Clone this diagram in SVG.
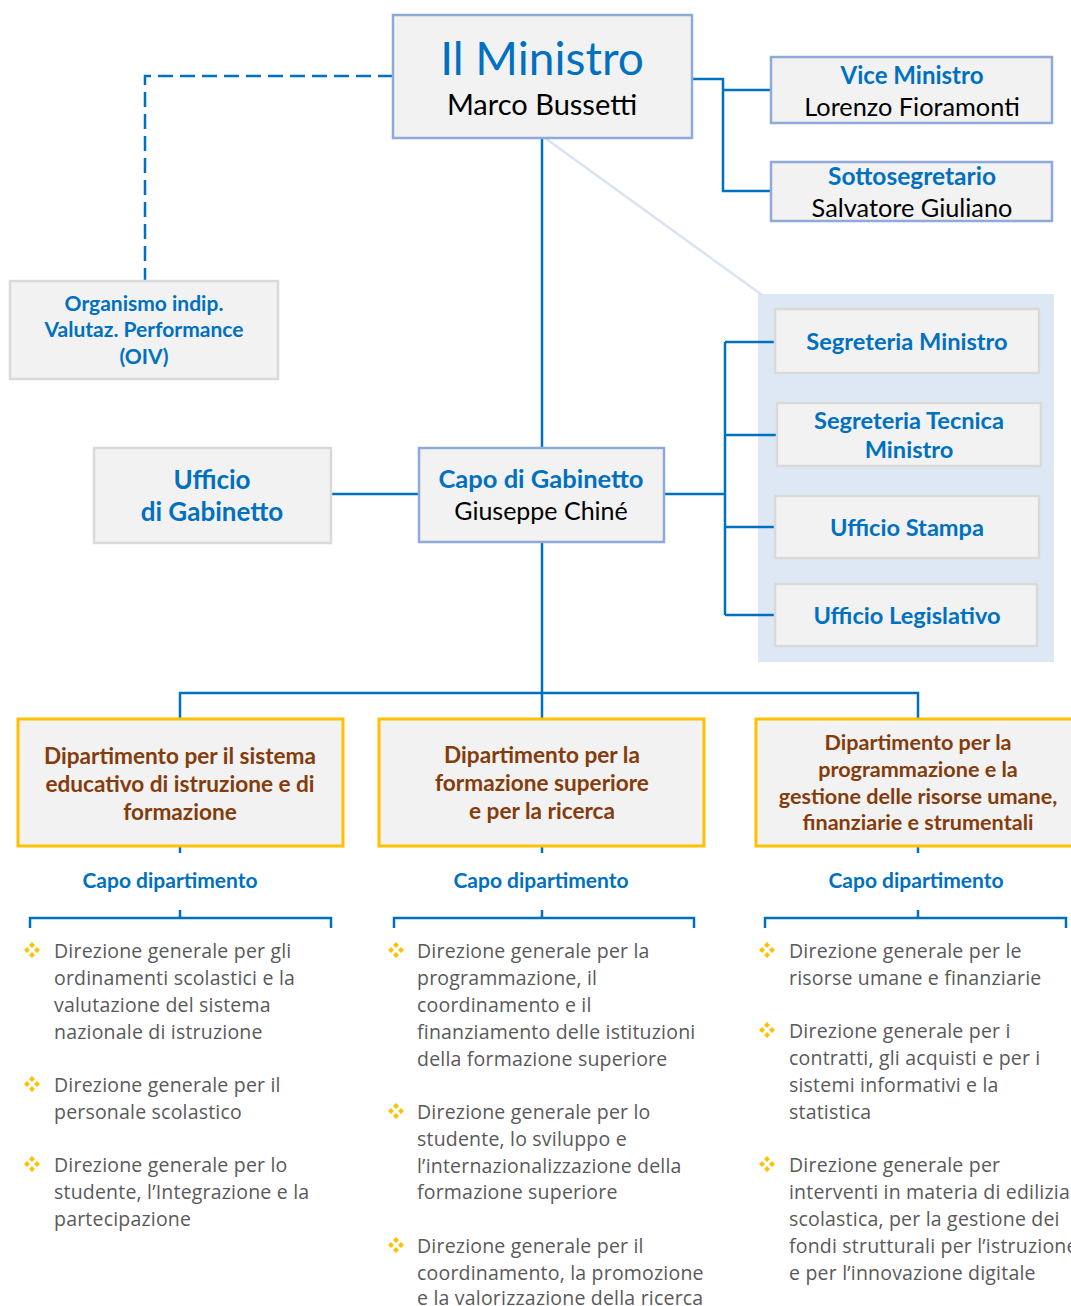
<svg xmlns="http://www.w3.org/2000/svg" xmlns:xlink="http://www.w3.org/1999/xlink" width="1071" height="1306" viewBox="0 0 1071 1306">
<style>
.box{fill:#f2f2f2;stroke:#d9d9d9;stroke-width:2.5}
.bbox{fill:#f2f2f2;stroke:#8eaadb;stroke-width:2.5}
.obox{fill:#f2f2f2;stroke:#ffc000;stroke-width:3}
.ln{fill:none;stroke:#0070c0;stroke-width:2.5}
.tb{font-family:Lato,"Open Sans",sans-serif;font-weight:bold;fill:#0070c0;text-anchor:middle}
.tk{font-family:Lato,"Open Sans",sans-serif;fill:#000;text-anchor:middle}
.td{font-family:Lato,"Open Sans",sans-serif;font-weight:bold;fill:#843c0c;text-anchor:middle;font-size:22.6px}
.td3{font-size:21.6px}
.tl{font-family:"Open Sans","Noto Sans",sans-serif;fill:#595959;font-size:19.5px;letter-spacing:0.2px}
.bul{fill:#ffc000}
</style>
<defs>
<g id="bul">
<path class="bul" d="M0,-8 l3,3 l-3,3 l-3,-3z M0,2 l3,3 l-3,3 l-3,-3z M-5,-3 l3,3 l-3,3 l-3,-3z M5,-3 l3,3 l-3,3 l-3,-3z"/>
</g>
</defs>
<rect width="1071" height="1306" fill="#fff"/>
<rect x="758" y="294" width="296" height="368" fill="#dee8f4"/>
<g id="connectors">
<path d="M545,138 L762,295" stroke="#dae3f3" stroke-width="2.5" fill="none"/>
<path class="ln" d="M393,76 H145 V281" stroke-dasharray="15,7"/>
<path class="ln" d="M692,79 H723 V191 H771 M723,90 H771"/>
<path class="ln" d="M542,138 V448"/>
<path class="ln" d="M331,494 H419"/>
<path class="ln" d="M664,494 H725 M725,342 V615 M725,342 H775 M725,435 H777 M725,527 H775 M725,615 H775"/>
<path class="ln" d="M542,542 V719 M180,719 V693 H918 V719"/>
<path class="ln" d="M180,846 V853 M542,846 V853 M918,846 V853"/>
<path class="ln" d="M30,928 V918 H331 V928 M180,910 V918"/>
<path class="ln" d="M394,928 V918 H694 V928 M542,910 V918"/>
<path class="ln" d="M765,928 V918 H1066 V928 M918,910 V918"/>
</g>
<g id="ministro">
<rect class="bbox" x="393" y="15" width="299" height="123"/>
<text class="tk" x="542" y="75" style="fill:#0070c0;font-size:46px">Il Ministro</text>
<text class="tk" x="542" y="115" font-size="29">Marco Bussetti</text>
</g>
<g id="vice">
<rect class="bbox" x="771" y="57" width="281" height="66"/>
<text class="tb" x="912" y="84" font-size="24">Vice Ministro</text>
<text class="tk" x="912" y="116" font-size="25.3">Lorenzo Fioramonti</text>
</g>
<g id="sottosegretario">
<rect class="bbox" x="771" y="162" width="281" height="59"/>
<text class="tb" x="912" y="185" font-size="24.5">Sottosegretario</text>
<text class="tk" x="912" y="217" font-size="25.3">Salvatore Giuliano</text>
</g>
<g id="oiv">
<rect class="box" x="10" y="281" width="268" height="98"/>
<text class="tb" x="144" y="311" font-size="21">Organismo indip.</text>
<text class="tb" x="144" y="337" font-size="21">Valutaz. Performance</text>
<text class="tb" x="144" y="364" font-size="21">(OIV)</text>
</g>
<g id="segreteria-ministro">
<rect class="box" x="775" y="309" width="264" height="64"/>
<text class="tb" x="907" y="350" font-size="23.6">Segreteria Ministro</text>
</g>
<g id="segreteria-tecnica">
<rect class="box" x="777" y="403" width="264" height="63"/>
<text class="tb" x="909" y="429" font-size="23.6">Segreteria Tecnica</text>
<text class="tb" x="909" y="458" font-size="23.6">Ministro</text>
</g>
<g id="ufficio-stampa">
<rect class="box" x="775" y="496" width="264" height="62"/>
<text class="tb" x="907" y="536" font-size="23.6">Ufficio Stampa</text>
</g>
<g id="ufficio-legislativo">
<rect class="box" x="775" y="584" width="262" height="62"/>
<text class="tb" x="907" y="624" font-size="23.6">Ufficio Legislativo</text>
</g>
<g id="ufficio-gabinetto">
<rect class="box" x="94" y="448" width="237" height="95"/>
<text class="tb" x="212" y="489" font-size="26">Ufficio</text>
<text class="tb" x="212" y="521" font-size="26">di Gabinetto</text>
</g>
<g id="capo-gabinetto">
<rect class="bbox" x="419" y="448" width="245" height="94"/>
<text class="tb" x="541" y="488" font-size="25.5">Capo di Gabinetto</text>
<text class="tk" x="541" y="520" font-size="25">Giuseppe Chiné</text>
</g>
<g id="dip1">
<rect class="obox" x="18" y="719" width="325" height="127"/>
<text class="td" x="180" y="764">Dipartimento per il sistema</text>
<text class="td" x="180" y="792">educativo di istruzione e di</text>
<text class="td" x="180" y="820">formazione</text>
<text class="tb" x="170" y="888" font-size="21">Capo dipartimento</text>
</g>
<g id="dip2">
<rect class="obox" x="379" y="719" width="325" height="127"/>
<text class="td" x="542" y="763">Dipartimento per la</text>
<text class="td" x="542" y="791">formazione superiore</text>
<text class="td" x="542" y="819">e per la ricerca</text>
<text class="tb" x="541" y="888" font-size="21">Capo dipartimento</text>
</g>
<g id="dip3">
<rect class="obox" x="756" y="719" width="325" height="127"/>
<text class="td td3" x="918" y="750">Dipartimento per la</text>
<text class="td td3" x="918" y="777">programmazione e la</text>
<text class="td td3" x="918" y="804">gestione delle risorse umane,</text>
<text class="td td3" x="918" y="830">finanziarie e strumentali</text>
<text class="tb" x="916" y="888" font-size="21">Capo dipartimento</text>
</g>
<g id="dir1">
<use xlink:href="#bul" x="32" y="950"/>
<use xlink:href="#bul" x="32" y="1084"/>
<use xlink:href="#bul" x="32" y="1164"/>
<text class="tl"><tspan x="54" y="958">Direzione generale per gli</tspan><tspan x="54" y="985">ordinamenti scolastici e la</tspan><tspan x="54" y="1012">valutazione del sistema</tspan><tspan x="54" y="1039">nazionale di istruzione</tspan><tspan x="54" y="1092">Direzione generale per il</tspan><tspan x="54" y="1119">personale scolastico</tspan><tspan x="54" y="1172">Direzione generale per lo</tspan><tspan x="54" y="1199">studente, l’Integrazione e la</tspan><tspan x="54" y="1226">partecipazione</tspan></text>
</g>
<g id="dir2">
<use xlink:href="#bul" x="396" y="950"/>
<use xlink:href="#bul" x="396" y="1111"/>
<use xlink:href="#bul" x="396" y="1245"/>
<text class="tl"><tspan x="417" y="958">Direzione generale per la</tspan><tspan x="417" y="985">programmazione, il</tspan><tspan x="417" y="1012">coordinamento e il</tspan><tspan x="417" y="1039">finanziamento delle istituzioni</tspan><tspan x="417" y="1066">della formazione superiore</tspan><tspan x="417" y="1119">Direzione generale per lo</tspan><tspan x="417" y="1146">studente, lo sviluppo e</tspan><tspan x="417" y="1173">l’internazionalizzazione della</tspan><tspan x="417" y="1199">formazione superiore</tspan><tspan x="417" y="1253">Direzione generale per il</tspan><tspan x="417" y="1280">coordinamento, la promozione</tspan><tspan x="417" y="1305">e la valorizzazione della ricerca</tspan></text>
</g>
<g id="dir3">
<use xlink:href="#bul" x="767" y="950"/>
<use xlink:href="#bul" x="767" y="1030"/>
<use xlink:href="#bul" x="767" y="1164"/>
<text class="tl"><tspan x="789" y="958">Direzione generale per le</tspan><tspan x="789" y="985">risorse umane e finanziarie</tspan><tspan x="789" y="1038">Direzione generale per i</tspan><tspan x="789" y="1065">contratti, gli acquisti e per i</tspan><tspan x="789" y="1092">sistemi informativi e la</tspan><tspan x="789" y="1119">statistica</tspan><tspan x="789" y="1172">Direzione generale per</tspan><tspan x="789" y="1199">interventi in materia di edilizia</tspan><tspan x="789" y="1226">scolastica, per la gestione dei</tspan><tspan x="789" y="1253">fondi strutturali per l’istruzione</tspan><tspan x="789" y="1280">e per l’innovazione digitale</tspan></text>
</g>
</svg>
